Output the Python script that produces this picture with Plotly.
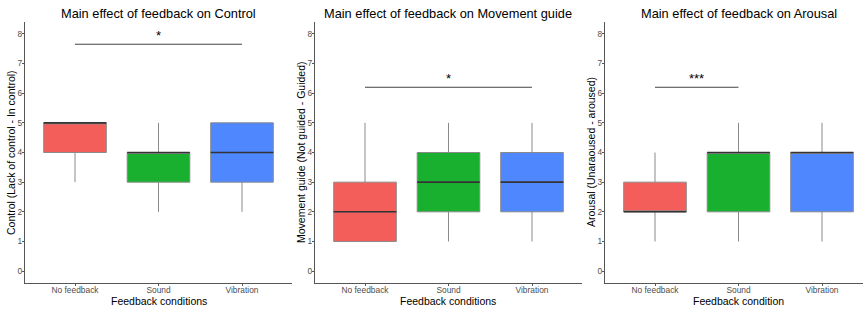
import plotly.graph_objects as go

# ---------------- data ----------------
categories = ["No feedback", "Sound", "Vibration"]

control_q1 = [4, 3, 3]
control_median = [5, 4, 4]
control_q3 = [5, 4, 5]
control_low = [3, 2, 2]
control_high = [5, 5, 5]

movement_q1 = [1, 2, 2]
movement_median = [2, 3, 3]
movement_q3 = [3, 4, 4]
movement_low = [1, 1, 1]
movement_high = [5, 5, 5]

arousal_q1 = [2, 2, 2]
arousal_median = [2, 4, 4]
arousal_q3 = [3, 4, 4]
arousal_low = [1, 1, 1]
arousal_high = [4, 5, 5]

panel_titles = ["Main effect of feedback on Control",
                "Main effect of feedback on Movement guide",
                "Main effect of feedback on Arousal"]
y_titles = ["Control (Lack of control - In control)",
            "Movement guide (Not guided - Guided)",
            "Arousal (Unaraoused - aroused)"]
x_titles = ["Feedback conditions", "Feedback conditions", "Feedback condition"]

# significance brackets: (start category index, end category index, y, label)
sig_control = [(1, 3, 7.65, "*")]
sig_movement = [(1, 3, 6.2, "*")]
sig_arousal = [(1, 2, 6.2, "***")]

y_ticks = [0, 1, 2, 3, 4, 5, 6, 7, 8]

# ---------------- style ----------------
fills = ["#F35E5A", "#1AB02F", "#4F87FF"]
W, H = 863, 310
FONT = "Liberation Sans, Arial, sans-serif"
box_width = 0.75

panels = [
    dict(q1=control_q1, med=control_median, q3=control_q3, lo=control_low, hi=control_high, sig=sig_control),
    dict(q1=movement_q1, med=movement_median, q3=movement_q3, lo=movement_low, hi=movement_high, sig=sig_movement),
    dict(q1=arousal_q1, med=arousal_median, q3=arousal_q3, lo=arousal_low, hi=arousal_high, sig=sig_arousal),
]

unit = 83.5
first_center_px = [75, 365, 655]
ytitle_px = [10.5, 300.5, 590.5]
y_top_px, y_bot_px = 22, 283

fig = go.Figure()
layout = dict(
    width=W, height=H, margin=dict(l=0, r=0, t=0, b=0),
    paper_bgcolor="white", plot_bgcolor="white", showlegend=False,
    font=dict(family=FONT, color="#000000"),
)
annotations = []
shapes = []

for p, pan in enumerate(panels):
    ax = "" if p == 0 else str(p + 1)
    xref = "x" + ax
    yref = "y" + ax
    start_px = first_center_px[p] - 0.6 * unit
    end_px = start_px + 3.2 * unit
    clip_end = min(end_px, W)
    rng_end = 0.4 + (clip_end - start_px) / unit
    dom = [start_px / W, clip_end / W]
    for i, cat in enumerate(categories):
        xi = i + 1
        fig.add_trace(go.Box(
            x=[xi], q1=[pan["q1"][i]], median=[pan["med"][i]], q3=[pan["q3"][i]],
            lowerfence=[pan["lo"][i]], upperfence=[pan["hi"][i]],
            width=box_width, whiskerwidth=0, boxpoints=False,
            fillcolor=fills[i], line=dict(color="#8a8a8a", width=1),
            xaxis=xref, yaxis=yref, hoverinfo="skip",
        ))
        fig.add_trace(go.Scatter(
            x=[xi - box_width / 2, xi + box_width / 2],
            y=[pan["med"][i], pan["med"][i]],
            mode="lines", line=dict(color="#333333", width=1.6),
            xaxis=xref, yaxis=yref, hoverinfo="skip",
        ))
    for (a, b, yv, lab) in pan["sig"]:
        shapes.append(dict(type="line", xref=xref, yref=yref, x0=a, x1=b, y0=yv, y1=yv,
                           line=dict(color="#444444", width=1)))
        annotations.append(dict(xref=xref, yref=yref, x=(a + b) / 2, y=yv, text=lab,
                                showarrow=False, yanchor="bottom", yshift=-1,
                                font=dict(size=13, color="#000000", family=FONT)))
    axis_common = dict(showgrid=False, zeroline=False, showline=True, linecolor="#555555",
                       linewidth=1, ticks="outside", ticklen=2, tickcolor="#555555",
                       tickfont=dict(size=8.4, color="#4d4d4d", family=FONT))
    layout["xaxis" + ax] = dict(domain=dom, range=[0.4, rng_end], tickvals=[1, 2, 3],
                                ticktext=categories, anchor=yref, ticklabelstandoff=-3,
                                **axis_common)
    layout["yaxis" + ax] = dict(domain=[(H - y_bot_px) / H, (H - y_top_px) / H],
                                range=[-0.4, 8.4], tickvals=y_ticks, anchor=xref,
                                ticklabelstandoff=-2, **axis_common)
    center_px = start_px + 1.6 * unit
    annotations.append(dict(xref="paper", yref="paper", x=center_px / W, y=1 - 13 / H,
                            text=panel_titles[p], showarrow=False, xanchor="center",
                            yanchor="middle", font=dict(size=12.8, color="#000000")))
    annotations.append(dict(xref="paper", yref="paper", x=center_px / W, y=1 - 301 / H,
                            text=x_titles[p], showarrow=False, xanchor="center",
                            yanchor="middle", font=dict(size=10.5, color="#000000")))
    annotations.append(dict(xref="paper", yref="paper", x=ytitle_px[p] / W,
                            y=1 - (y_top_px + y_bot_px) / 2 / H, text=y_titles[p],
                            textangle=-90, showarrow=False, xanchor="center",
                            yanchor="middle", font=dict(size=10.5, color="#000000")))

layout["annotations"] = annotations
layout["shapes"] = shapes
fig.update_layout(**layout)
fig.write_html("out.html", config={"displayModeBar": False},
               post_script="document.body.style.margin='0';document.body.style.overflow='hidden';")
